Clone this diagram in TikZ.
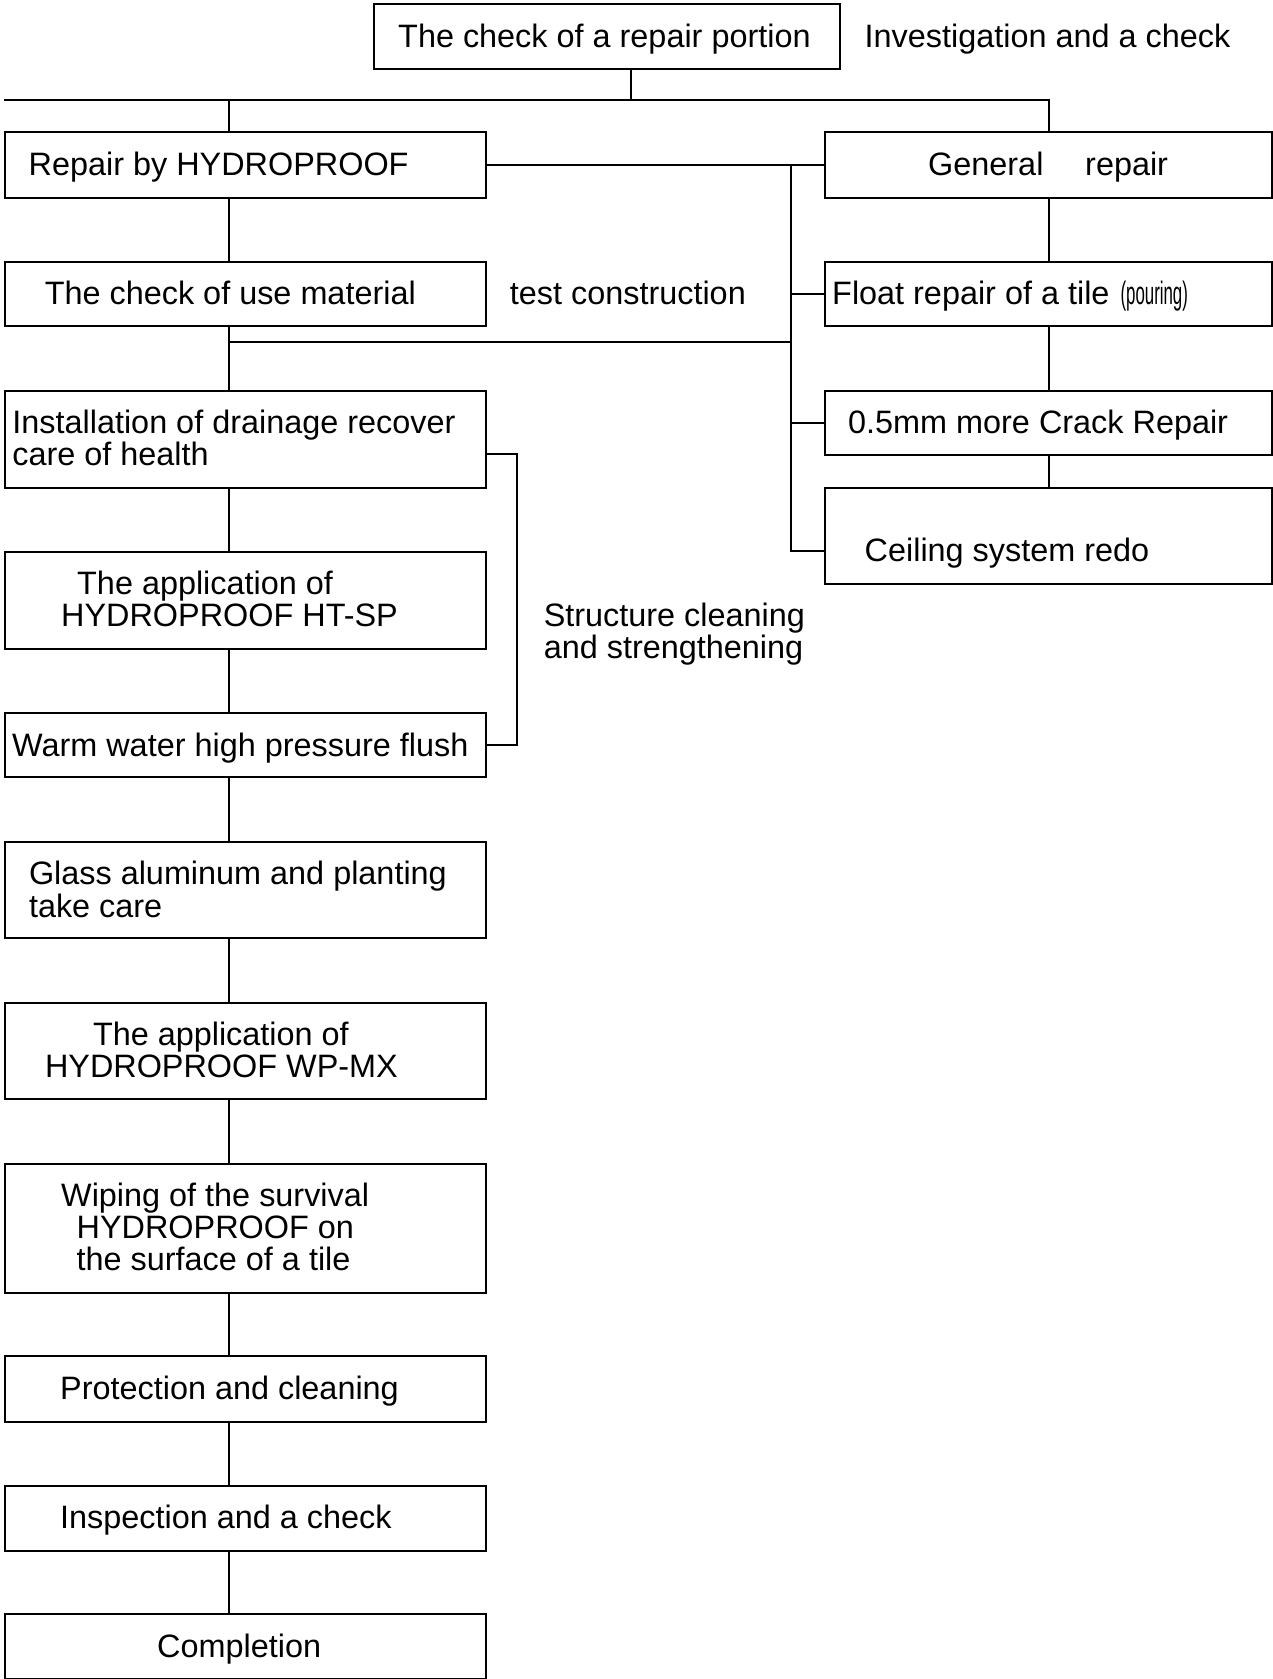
\documentclass[tikz,border=0pt]{standalone}
\usepackage{fontspec}
\setmainfont{Liberation Sans}
\usepackage{graphicx}
\begin{document}
\begin{tikzpicture}[x=1pt,y=-1pt,
  box/.style={draw, line width=2pt, inner sep=0pt, anchor=north west},
  txt/.style={anchor=base west, inner sep=0pt, font=\fontsize{32.4}{32.4}\selectfont},
  ln/.style={line width=2pt}]
\useasboundingbox (0,0) rectangle (1273,1679);
% boxes
\node[box, minimum width=466pt, minimum height=65pt] (top) at (373,3) {};
\node[box, minimum width=481pt, minimum height=66pt] (repair) at (4,131) {};
\node[box, minimum width=447pt, minimum height=66pt] (general) at (824,131) {};
\node[box, minimum width=481pt, minimum height=64pt] (check) at (4,261) {};
\node[box, minimum width=447pt, minimum height=64pt] (float) at (824,261) {};
\node[box, minimum width=481pt, minimum height=97pt] (install) at (4,390) {};
\node[box, minimum width=447pt, minimum height=64pt] (crack) at (824,390) {};
\node[box, minimum width=447pt, minimum height=96pt] (ceiling) at (824,487) {};
\node[box, minimum width=481pt, minimum height=97pt] (htsp) at (4,551) {};
\node[box, minimum width=481pt, minimum height=64pt] (warm) at (4,712) {};
\node[box, minimum width=481pt, minimum height=96pt] (glass) at (4,841) {};
\node[box, minimum width=481pt, minimum height=96pt] (wpmx) at (4,1002) {};
\node[box, minimum width=481pt, minimum height=129pt] (wiping) at (4,1163) {};
\node[box, minimum width=481pt, minimum height=66pt] (protect) at (4,1355) {};
\node[box, minimum width=481pt, minimum height=65pt] (inspect) at (4,1485) {};
\node[box, minimum width=481pt, minimum height=65pt] (complete) at (4,1613) {};
% texts
\node[txt] (t1) at (398,47) {The check of a repair portion};
\node[txt] (t2) at (864.5,47) {Investigation and a check};
\node[txt] (t3) at (28.5,175.5) {Repair by HYDROPROOF};
\node[txt] (t4) at (928,175.5) {General};
\node[txt] (t4b) at (1085,175.5) {repair};
\node[txt] (t5) at (44.6,304) {The check of use material};
\node[txt] (t6) at (509.7,304) {test construction};
\node[txt] (t7) at (832,304) {Float repair of a tile \hspace{2pt}\scalebox{0.52}[1]{(pouring)}};
\node[txt] (t8) at (848,433) {0.5mm more Crack Repair};
\node[txt] (t9) at (864.5,561.4) {Ceiling system redo};
\node[txt] (t10) at (12.2,433) {Installation of drainage recover};
\node[txt] (t10b) at (12.2,465) {care of health};
\node[txt] (t11) at (77,594.3) {The application of};
\node[txt] (t11b) at (61,626.5) {HYDROPROOF HT-SP};
\node[txt] (t12) at (543.6,626) {Structure cleaning};
\node[txt] (t12b) at (543.6,658.6) {and strengthening};
\node[txt] (t13) at (12,756) {Warm water high pressure flush};
\node[txt] (t14) at (28.8,884.4) {Glass aluminum and planting};
\node[txt] (t14b) at (28.8,917) {take care};
\node[txt] (t15) at (92.8,1045) {The application of};
\node[txt] (t15b) at (44.8,1077.7) {HYDROPROOF WP-MX};
\node[txt] (t16) at (61,1206.5) {Wiping of the survival};
\node[txt] (t16b) at (76.5,1238.5) {HYDROPROOF on};
\node[txt] (t16c) at (76.5,1270.6) {the surface of a tile};
\node[txt] (t17) at (60,1399) {Protection and cleaning};
\node[txt] (t18) at (60,1528.4) {Inspection and a check};
\node[txt] (t19) at (157,1657) {Completion};
% helper coordinates
\coordinate (T) at (631,0);
\coordinate (L) at (229,0);
\coordinate (K) at (791,0);
\coordinate (barL) at (4,100);
\coordinate (midL) at (229,342);
\coordinate (cs) at (791,551);
\coordinate (br) at (485,454);
\coordinate (bx) at (517,454);
% connectors
\draw[ln] (top.south -| T) -- (T |- barL);
\draw[ln] (barL) -- (general.north |- barL) -- (general.north);
\draw[ln] (L |- barL) -- (repair.north -| L);
\draw[ln] (repair.east) -- (general.west);
\draw[ln] (K |- repair.east) -- (cs) -- (cs -| ceiling.west);
\draw[ln] (K |- float.west) -- (float.west);
\draw[ln] (K |- crack.west) -- (crack.west);
\draw[ln] (midL) -- (midL -| K);
\draw[ln] (general.south) -- (float.north);
\draw[ln] (float.south) -- (crack.north);
\draw[ln] (crack.south) -- (ceiling.north);
\draw[ln] (repair.south -| L) -- (check.north -| L);
\draw[ln] (check.south -| L) -- (install.north -| L);
\draw[ln] (install.south -| L) -- (htsp.north -| L);
\draw[ln] (htsp.south -| L) -- (warm.north -| L);
\draw[ln] (warm.south -| L) -- (glass.north -| L);
\draw[ln] (glass.south -| L) -- (wpmx.north -| L);
\draw[ln] (wpmx.south -| L) -- (wiping.north -| L);
\draw[ln] (wiping.south -| L) -- (protect.north -| L);
\draw[ln] (protect.south -| L) -- (inspect.north -| L);
\draw[ln] (inspect.south -| L) -- (complete.north -| L);
\draw[ln] (br) -- (bx) -- (bx |- warm.east) -- (warm.east);
\end{tikzpicture}
\end{document}
